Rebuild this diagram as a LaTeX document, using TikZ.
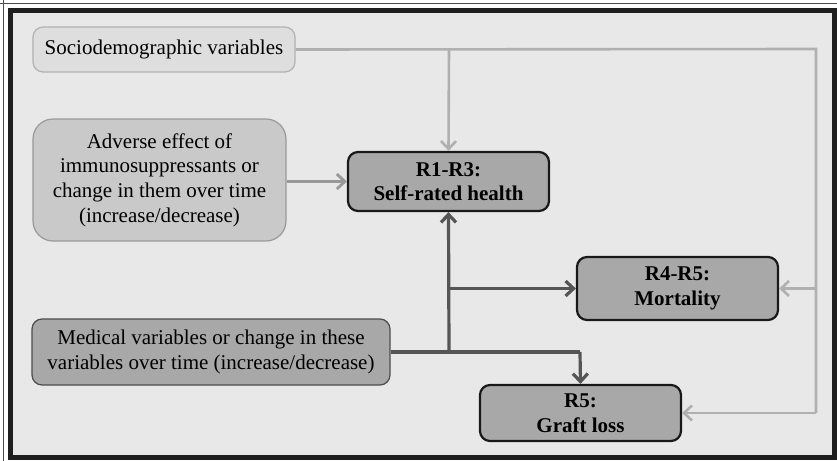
\documentclass[tikz,border=0pt]{standalone}
\usepackage{fontspec}
\setmainfont{Liberation Serif}
\usepackage{tikz}
\usetikzlibrary{arrows.meta}
\definecolor{panel}{HTML}{E8E8E8}
\definecolor{lightline}{HTML}{B0B0B0}
\definecolor{midline}{HTML}{999999}
\definecolor{darkline}{HTML}{555555}

\begin{document}
\begin{tikzpicture}[x=0.5pt,y=-0.5pt,>={Straight Barb[length=4pt,width=7.5pt]},
                    font=\fontsize{10.5}{12.3}\selectfont]
  \tikzstyle{every node}=[align=center,inner sep=0pt]
  \tikzstyle{inbox} = [rectangle, rounded corners=5pt, line width=0.6pt]
  \tikzstyle{result} = [rectangle, rounded corners=5pt, fill=black!34,
    draw=black!90, line width=1.1pt, font=\fontsize{10.5}{12.3}\selectfont\bfseries]
  \tikzstyle{light} = [draw=lightline, line width=1.3pt]
  \tikzstyle{dark} = [draw=darkline, line width=1.6pt]

  % frame
  \useasboundingbox (0,0) rectangle (837,461);
  \fill[white] (0,0) rectangle (837,461);
  \draw[black!70,line width=0.5pt] (0,3) -- (837,3) (3,0) -- (3,461);
  \draw[fill=panel,draw=black!88,line width=2.5pt] (10.5,10.5) rectangle (834,457);

  % boxes
  \node[inbox,fill=black!13,draw=black!30,minimum width=131pt,minimum height=22.5pt]
        (socio) at (164,49.5) {Sociodemographic variables};
  \node[inbox,rounded corners=10pt,fill=black!21,draw=black!40,minimum width=126.5pt,
        minimum height=61pt] (adverse) at (159.5,180)
        {Adverse effect of\\immunosuppressants or\\change in them over time\\(increase/decrease)};
  \node[inbox,fill=black!34,draw=black!70,minimum width=179pt,minimum height=33pt]
        (medical) at (211,352)
        {Medical variables or change in these\\variables over time (increase/decrease)};

  \node[result,minimum width=100.5pt,minimum height=29.5pt] (self) at (448.5,181.5)
        {R1-R3:\\Self-rated health};
  \node[result,minimum width=100.5pt,minimum height=31.5pt] (mort) at (677.5,288.5)
        {R4-R5:\\Mortality};
  \node[result,minimum width=100.5pt,minimum height=28pt] (graft) at (580.5,413)
        {R5:\\Graft loss};

  \coordinate (sTop) at (449,49);
  \coordinate (sRight) at (816,49);
  \coordinate (sMort) at (816,288.5);
  \coordinate (sGraft) at (816,413);
  \coordinate (mJoin) at (449,352);
  \coordinate (mMort) at (449,288.5);
  \coordinate (mGraft) at (580,352);

  % sociodemographic lines
  \draw[light] (socio.east) -- (sRight) -- (sGraft);
  \draw[light,->] (sGraft) -- (graft.east);
  \draw[light,->] (sMort) -- (mort.east);
  \draw[light,->] (sTop) -- (self.north);

  % adverse effect
  \draw[draw=midline,line width=1.4pt,->] (adverse.east |- self.west) -- (self.west);

  % medical lines
  \draw[dark] (medical.east |- mJoin) -- (mGraft);
  \draw[dark,->] (mJoin) -- (self.south);
  \draw[dark,->] (mMort) -- (mort.west);
  \draw[dark,->] (mGraft) -- (graft.north);
\end{tikzpicture}
\end{document}
